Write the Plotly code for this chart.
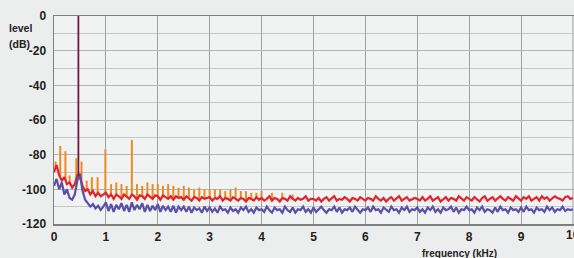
import plotly.graph_objects as go
import numpy as np

# frequency bins (kHz), 0.05 kHz spacing from 0 to 10 kHz
FREQ_STEP_KHZ = 0.05
N_BINS = 201
freq_khz = [round(i * FREQ_STEP_KHZ, 2) for i in range(N_BINS)]

# red series: noise floor (dB), one row per kHz
red_level = [
    -90, -86, -92, -95, -93, -97, -96, -99, -97, -92, -93, -98, -101, -100, -103, -101, -104, -102, -104, -103,
    -102, -104.5, -103, -105.5, -103, -104, -105.5, -103, -104.5, -105.5, -103, -104, -106, -103.5, -104, -105.5, -103, -104.5, -105.5, -103.5,
    -104, -106, -103.5, -104.5, -105.5, -104, -106, -104, -105, -104.5, -106, -104, -105, -106.5, -104.5, -105, -106.5, -104.5, -105.5, -105,
    -104.5, -106.5, -105, -105.5, -104, -106.5, -105, -105.5, -106.5, -104.5, -105.5, -106.5, -105, -105.5, -107, -105, -105.5, -106.5, -104.5, -106,
    -105, -106.5, -105.5, -104, -106.5, -105, -105.5, -107, -105, -105.5, -106.5, -104, -105.5, -106.5, -105, -106, -105.5, -104, -106.5, -105.5,
    -105.5, -106.5, -105, -107, -105.5, -104.5, -106.5, -105.5, -104, -106.5, -105.5, -106, -104.5, -105.5, -107, -105, -105.5, -106.5, -104.5, -105.5,
    -106.5, -105, -105.5, -106.5, -104, -105.5, -106.5, -105, -107, -105.5, -104.5, -106.5, -105.5, -104, -106.5, -105.5, -104.5, -106.5, -105.5, -105,
    -105.5, -106.5, -104.5, -106.5, -105.5, -104, -106.5, -105.5, -104.5, -107, -105.5, -104.5, -106.5, -105, -105.5, -106.5, -104, -105.5, -106.5, -104.5,
    -105.5, -106.5, -104.5, -105.5, -107, -105, -104, -106.5, -105.5, -104.5, -106.5, -105.5, -104, -105.5, -106.5, -104.5, -105.5, -106.5, -104, -105.5,
    -106.5, -104.5, -105.5, -104, -106.5, -105.5, -104.5, -106.5, -104, -105.5, -104.5, -106.5, -105.5, -104, -105, -105.5, -106.5, -104.5, -104, -105.5,
    -105,
]

# blue series (dB)
blue_level = [
    -98, -94, -100, -96, -103, -100, -105, -106, -103, -95, -91, -101, -106, -108, -110, -108.5, -111, -109.5, -112, -110,
    -107.5, -112.5, -108.5, -113, -109, -111.5, -108, -112.5, -109, -113, -107.5, -112, -109, -111.5, -108, -113, -109, -112.5, -109.5, -112,
    -108.5, -113, -109.5, -112, -110, -113, -109.5, -113.5, -110, -112, -110, -113, -110, -113.5, -110.5, -112, -111, -113.5, -110, -112.5,
    -110.5, -113, -111, -113.5, -110, -112, -111.5, -113.5, -110.5, -112.5, -111.5, -113.5, -110.5, -112, -110, -113, -111.5, -113.5, -110.5, -112,
    -111.5, -113, -110, -112, -113.5, -110.5, -112, -111.5, -113.5, -110, -112, -113, -110.5, -113.5, -111.5, -112, -110, -113, -111.5, -113.5,
    -110.5, -113, -111.5, -110, -112, -113.5, -111.5, -112, -110, -113, -110.5, -113.5, -111.5, -112, -110.5, -113, -110, -112, -113.5, -111.5,
    -112, -110.5, -113, -110, -112, -111.5, -113.5, -110.5, -112, -113, -110, -112, -111.5, -113.5, -110.5, -112, -110, -113, -111.5, -112,
    -110.5, -113, -111.5, -113.5, -110.5, -112, -110, -113, -111.5, -113.5, -110.5, -112, -111.5, -110, -113, -110.5, -113.5, -111.5, -112, -110,
    -112, -111.5, -113.5, -110.5, -112, -110, -113, -111.5, -112, -113.5, -110.5, -113, -110, -112, -111.5, -113.5, -110.5, -112, -111.5, -113,
    -110.5, -113, -110, -112, -111.5, -113.5, -110.5, -112, -111.5, -113, -110, -112, -110.5, -113, -111.5, -112, -110, -112.5, -111.5, -112,
    -111.5,
]

# harmonic / spurious spikes of the red series (kHz, dB)
spike_freq = [0.03, 0.12, 0.22, 0.30, 0.43, 0.53, 0.63, 0.73, 0.84, 0.99,
              1.1, 1.2, 1.3, 1.4, 1.5, 1.6, 1.7, 1.8, 1.9, 2.0,
              2.1, 2.2, 2.3, 2.4, 2.5, 2.6, 2.7, 2.8, 2.9, 3.0,
              3.1, 3.2, 3.3, 3.4, 3.5, 3.6, 3.7, 3.8, 3.9, 4.0, 4.2, 4.4, 4.6]
spike_level = [-84, -75, -78, -92, -82, -84, -95, -93, -93, -77,
               -97, -96, -97, -98, -71.5, -97, -98, -96, -97, -97,
               -98, -97, -98, -99, -98, -99, -100, -99, -100, -100,
               -100, -100, -101, -100, -99, -101, -101, -102, -102, -101, -102, -102, -103]

# test tone
tone_freq = [0.47]
tone_level = [0]

x_ticks = [0, 1, 2, 3, 4, 5, 6, 7, 8, 9, 10]
y_ticks = [0, -20, -40, -60, -80, -100, -120]
y_tick_text = ["0", "-20", "-40", "-60", "-80", "-100", "-120"]

FONT = "Liberation Sans"
W, H = 574, 258
ML, MR, MT, MB = 54, 0, 16, 34

# build spike segments from the floor to their tip
sx, sy = [], []
for f, lv in zip(spike_freq, spike_level):
    base = float(np.interp(f, freq_khz, red_level))
    sx += [f, f, None]
    sy += [base, lv, None]

tx, ty = [], []
for f, lv in zip(tone_freq, tone_level):
    base = float(np.interp(f, freq_khz, red_level))
    tx += [f, f, None]
    ty += [base, lv, None]

fig = go.Figure()
fig.add_trace(go.Scatter(x=sx, y=sy, mode="lines", line=dict(color="#ee8a1e", width=2),
                         hoverinfo="skip", showlegend=False))
fig.add_trace(go.Scatter(x=freq_khz, y=red_level, mode="lines", line=dict(color="#e2232b", width=2.2),
                         showlegend=False))
fig.add_trace(go.Scatter(x=freq_khz, y=blue_level, mode="lines", line=dict(color="#5a50a8", width=2.2),
                         showlegend=False))
fig.add_trace(go.Scatter(x=tx, y=ty, mode="lines", line=dict(color="#6a1c40", width=1.8),
                         hoverinfo="skip", showlegend=False))


def px_to_paper(x, y):
    return (x - ML) / (W - ML - MR), 1 - (y - MT) / (H - MT - MB)


def label(text, x, y, size, anchor):
    px, py = px_to_paper(x, y)
    return dict(text=text, x=px, y=py, xref="paper", yref="paper", showarrow=False,
                xanchor=anchor, yanchor="middle",
                font=dict(family=FONT, size=size, weight="bold", color="#222222"))


TICK_FONT = dict(family=FONT, size=12, weight="bold", color="#222222")

annotations = [
    label("level", 7, 28, 10.5, "left"),
    label("(dB)", 7, 44, 10.5, "left"),
    label("frequency (kHz)", 459, 253, 10, "center"),
]
# the last x tick label sits on the right edge of the figure, where it is cut off
last_tick = x_ticks[-1]
annotations.append(dict(text=str(last_tick), x=last_tick, xref="x", y=px_to_paper(0, 235)[1],
                        yref="paper", showarrow=False, xanchor="center", yanchor="middle",
                        font=TICK_FONT))

fig.update_layout(
    width=W, height=H,
    margin=dict(l=ML, r=MR, t=MT, b=MB, pad=0),
    paper_bgcolor="#eceeed",
    plot_bgcolor="#f1f3f2",
    font=dict(family=FONT, color="#222222"),
    xaxis=dict(
        range=[0, 10.02], tickvals=x_ticks[:-1], ticktext=[str(v) for v in x_ticks[:-1]],
        automargin=False,
        showgrid=True, gridcolor="#9ea2a2", gridwidth=1,
        showline=True, linecolor="#7c8080", linewidth=1.5, mirror=True,
        zeroline=False, ticks="", ticklabelstandoff=1,
        tickfont=TICK_FONT,
    ),
    yaxis=dict(
        range=[-120, 0], tickvals=y_ticks, ticktext=y_tick_text,
        automargin=False,
        showgrid=True, gridcolor="#b2b6b6", gridwidth=1,
        minor=dict(dtick=10, showgrid=True, gridcolor="#c4c8c8", gridwidth=1),
        showline=True, linecolor="#7c8080", linewidth=1.5, mirror=True,
        zeroline=False, ticks="", ticklabelstandoff=4,
        tickfont=TICK_FONT,
    ),
    annotations=annotations,
)
# vertical gridline at 10 kHz
fig.add_vline(x=last_tick, line=dict(color="#9ea2a2", width=1), layer="below")

fig.write_html(
    "out.html",
    config={"displayModeBar": False, "staticPlot": True},
    post_script="document.body.style.margin='0px';document.body.style.overflow='hidden';"
                "document.body.style.background='#eceeed';",
)
